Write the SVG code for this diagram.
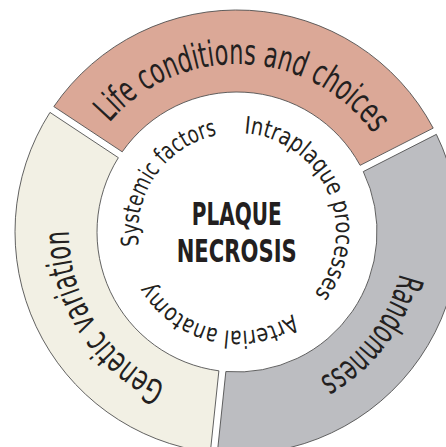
<svg xmlns="http://www.w3.org/2000/svg" width="446" height="447" viewBox="0 0 446 447">
<style>
.seg{stroke:#505050;stroke-width:0.9}
.outer{font-family:"Liberation Sans Narrow","DejaVu Sans Condensed","Liberation Sans",sans-serif;font-stretch:condensed;font-size:35px;fill:#231f20}
.inner{font-family:"Liberation Sans Narrow","DejaVu Sans Condensed","Liberation Sans",sans-serif;font-stretch:condensed;font-size:24px;fill:#231f20}
.center{font-family:"Liberation Sans Narrow","DejaVu Sans Condensed","Liberation Sans",sans-serif;font-stretch:condensed;font-weight:bold;font-size:32px;fill:#231f20}
</style>
<defs>
<path id="pLife" d="M72.91,195.93 A168,168 0 0 1 403.52,209.77"/>
<path id="pRand" d="M360.87,118.50 A168,168 0 0 1 159.43,381.02"/>
<path id="pGen" d="M300.76,387.43 A168,168 0 0 1 123.94,107.75"/>
<path id="pSys" d="M166.75,301.76 A99,99 0 0 1 279.15,142.42"/>
<path id="pIntra" d="M213.73,135.77 A99,99 0 0 1 291.79,314.46"/>
<path id="pArt" d="M328.13,270.68 A99,99 0 0 1 138.14,226.82"/>
</defs>
<rect width="446" height="447" fill="#ffffff"/>
<g id="life">
<path class="seg" fill="#dba897" d="M53.83,106.57 A222,222 0 0 1 433.19,128.11 L360.11,165.34 A140,140 0 0 0 122.22,151.84 Z"/>
<text class="outer"><textPath href="#pLife" startOffset="50%" text-anchor="middle" textLength="304" lengthAdjust="spacingAndGlyphs">Life conditions and choices</textPath></text>
</g>
<g id="randomness">
<path class="seg" fill="#bcbdc1" d="M436.37,134.35 A222,222 0 0 1 217.28,453.12 L225.85,371.56 A140,140 0 0 0 363.29,171.58 Z"/>
<text class="outer"><textPath href="#pRand" startOffset="50%" text-anchor="middle" textLength="136" lengthAdjust="spacingAndGlyphs">Randomness</textPath></text>
</g>
<g id="genetic">
<path class="seg" fill="#f2f0e4" d="M210.32,452.38 A222,222 0 0 1 49.97,112.41 L118.36,157.68 A140,140 0 0 0 218.89,370.82 Z"/>
<text class="outer"><textPath href="#pGen" startOffset="50%" text-anchor="middle" textLength="192" lengthAdjust="spacingAndGlyphs">Genetic variation</textPath></text>
</g>
<g id="core">
<text class="inner"><textPath href="#pSys" startOffset="50%" text-anchor="middle" textLength="149" lengthAdjust="spacingAndGlyphs">Systemic factors</textPath></text>
<text class="inner"><textPath href="#pIntra" startOffset="50%" text-anchor="middle" textLength="215" lengthAdjust="spacingAndGlyphs">Intraplaque processes</textPath></text>
<text class="inner"><textPath href="#pArt" startOffset="50%" text-anchor="middle" textLength="162" lengthAdjust="spacingAndGlyphs">Arterial anatomy</textPath></text>
<text class="center" x="236.7" y="225" text-anchor="middle" textLength="90" lengthAdjust="spacingAndGlyphs">PLAQUE</text>
<text class="center" x="236.7" y="261.7" text-anchor="middle" textLength="120" lengthAdjust="spacingAndGlyphs">NECROSIS</text>
</g>
<g id="connectors"/>
</svg>
